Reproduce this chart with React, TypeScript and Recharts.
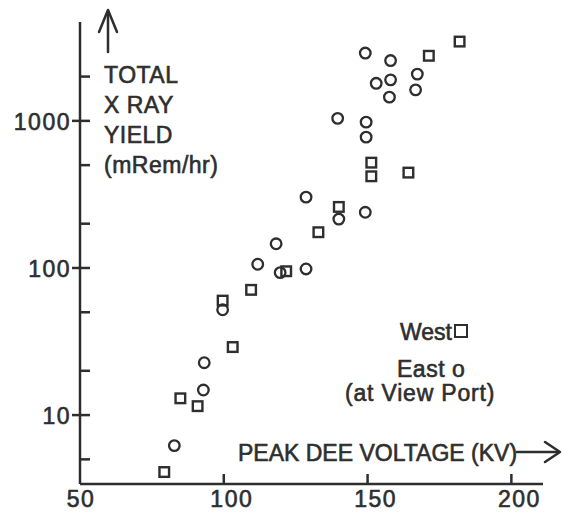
import React from 'react';
import { ScatterChart, Scatter, XAxis, YAxis } from 'recharts';

// West (squares)
const westVoltage = [79.3, 84.9, 90.9, 99.6, 103.1, 109.5, 121.7, 132.9, 140.0, 151.3, 151.3, 164.2, 171.3, 182.0];
const westYield = [4.1, 13.0, 11.5, 60, 29, 71, 95, 175, 260, 520, 420, 445, 2770, 3460];

// East (circles, at view port)
const eastVoltage = [82.8, 92.9, 93.2, 99.6, 111.8, 118.2, 119.6, 128.6, 128.6, 140.0, 149.2, 139.6, 149.5, 149.5, 149.2, 158.0, 153.0, 158.0, 157.6, 167.3, 166.7];
const eastYield = [6.2, 14.8, 22.7, 52, 106, 146, 93, 98.5, 303, 215, 239, 1040, 980, 775, 2890, 2570, 1800, 1900, 1450, 2080, 1625];

const xTicks = [50, 100, 150, 200];
const yTicks = [5, 10, 20, 50, 100, 200, 500, 1000, 2000];
const yLabeled = [10, 100, 1000];
const yTitleLines = ['TOTAL', 'X RAY', 'YIELD', '(mRem/hr)'];
const xTitle = 'PEAK DEE VOLTAGE (KV)';
const legendWest = 'West';
const legendEast = 'East o';
const legendNote = '(at View Port)';

const west = westVoltage.map((v, i) => ({ v, y: westYield[i] }));
const east = eastVoltage.map((v, i) => ({ v, y: eastYield[i] }));

const INK = '#2e2e2e';
const FONT = '"Liberation Sans", Arial, sans-serif';
const TXT = { fontFamily: FONT, fill: INK, stroke: INK, strokeWidth: 0.6 };

const XTick = (p: any) => {
  const { x, y, payload } = p;
  const v = payload.value;
  return (
    <g>
      {v !== 50 && <line x1={x} x2={x} y1={y} y2={y - 10} stroke={INK} strokeWidth={2.5} />}
      <text x={x + (v === 50 ? 1 : 8)} y={y + 23} textAnchor="middle" fontSize={23} letterSpacing={1.5} {...TXT}>
        {v}
      </text>
    </g>
  );
};

const YTick = (p: any) => {
  const { x, y, payload } = p;
  const v = payload.value;
  const major = yLabeled.includes(v);
  return (
    <g>
      <line x1={major ? x - 8 : x} x2={x + 10} y1={y} y2={y} stroke={INK} strokeWidth={2.5} />
      {major && (
        <text x={x - 9} y={y + 9} textAnchor="end" fontSize={23} letterSpacing={1.5} {...TXT}>
          {v}
        </text>
      )}
    </g>
  );
};

const CircleMark = (p: any) => (
  <circle cx={p.cx} cy={p.cy} r={5.3} fill="none" stroke={INK} strokeWidth={2.3} />
);
const SquareMark = (p: any) => (
  <rect x={p.cx - 4.8} y={p.cy - 4.8} width={9.6} height={9.6} fill="none" stroke={INK} strokeWidth={2.4} />
);

export default function App() {
  return (
    <div style={{ position: 'absolute', left: 0, top: 0, width: 563, height: 516, background: '#fff' }}>
      <ScatterChart width={563} height={516} margin={{ top: 22, right: 20, bottom: 0, left: 0 }}>
        <XAxis
          type="number"
          dataKey="v"
          domain={[50, 211]}
          ticks={xTicks}
          allowDataOverflow
          height={32}
          tickSize={0}
          tickMargin={0}
          tickLine={false}
          axisLine={{ stroke: INK, strokeWidth: 2.5 }}
          tick={XTick}
        />
        <YAxis
          type="number"
          dataKey="y"
          scale="log"
          domain={[3.4, 4700]}
          ticks={yTicks}
          allowDataOverflow
          width={80}
          tickSize={0}
          tickMargin={0}
          tickLine={false}
          axisLine={{ stroke: INK, strokeWidth: 2.5 }}
          tick={YTick}
        />
        <Scatter data={west} shape={SquareMark} isAnimationActive={false} />
        <Scatter data={east} shape={CircleMark} isAnimationActive={false} />
      </ScatterChart>
      <svg width={563} height={516} style={{ position: 'absolute', left: 0, top: 0, pointerEvents: 'none' }}>
        <g fontSize={23} {...TXT}>
          {yTitleLines.map((t, i) => (
            <text key={t} x={104} y={83 + i * 30} letterSpacing={0.5}>
              {t}
            </text>
          ))}
          <text x={238} y={461}>{xTitle}</text>
          <text x={400} y={340}>{legendWest}</text>
          <text x={397} y={377} letterSpacing={0.5}>{legendEast}</text>
          <text x={345} y={401} letterSpacing={0.8}>{legendNote}</text>
        </g>
        <rect x={455} y={325} width={12} height={12} fill="none" stroke={INK} strokeWidth={2} />
        <g stroke={INK} strokeWidth={2.5} fill="none" strokeLinecap="round" strokeLinejoin="round">
          <line x1={108} y1={52} x2={108} y2={11} />
          <path d="M 99 32 L 108 10 L 117 32" />
          <line x1={517} y1={452} x2={558} y2={452} />
          <path d="M 545 442 L 560 452 L 545 462" />
        </g>
      </svg>
    </div>
  );
}
